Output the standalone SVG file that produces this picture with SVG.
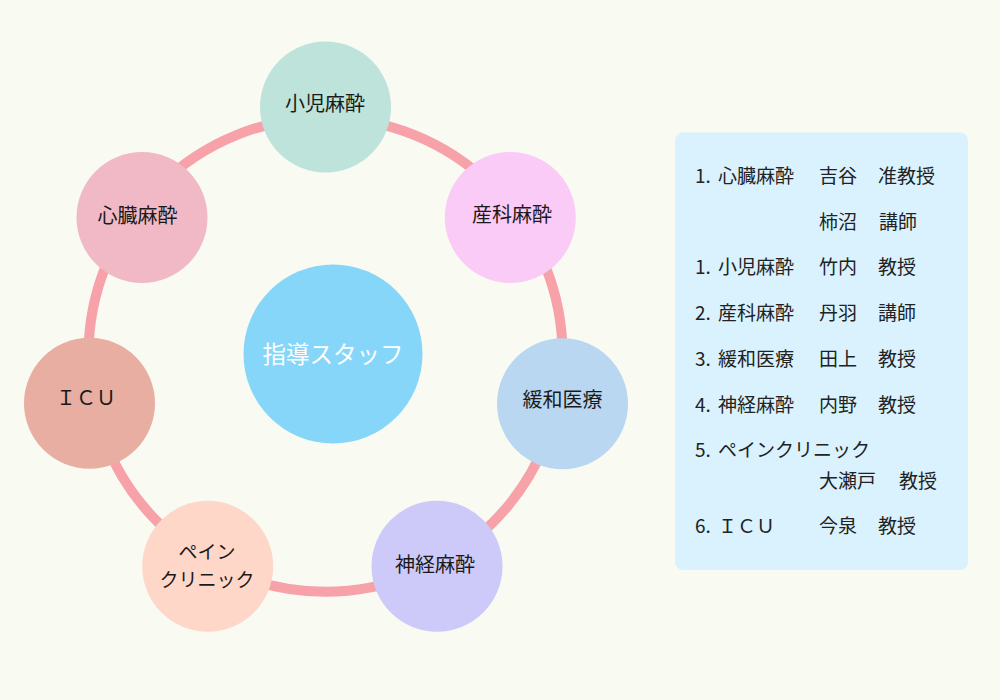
<svg xmlns="http://www.w3.org/2000/svg" width="1000" height="700" viewBox="0 0 1000 700">
  <style>
    text { font-family: "Noto Sans CJK JP", "Noto Sans", sans-serif; fill: #1a1a1a; }
    .lbl { font-size: 20px; text-anchor: middle; }
    .lbl2 { font-size: 19px; text-anchor: middle; }
    .ctr { font-size: 23.5px; text-anchor: middle; fill: #ffffff; }
    .lst { font-size: 19px; fill: #222222; }
    .node { stroke: none; }
  </style>
  <rect x="0" y="0" width="1000" height="700" fill="#f9faf2"/>

  <g id="connectors">
    <circle cx="325.5" cy="354.7" r="237" fill="none" stroke="#f7a1a9" stroke-width="10"/>
  </g>

  <g id="node-center">
    <circle class="node" cx="333" cy="354" r="89.5" fill="#86d6f9"/>
    <text class="ctr" x="333" y="362.5">指導スタッフ</text>
  </g>

  <g id="node-shoni">
    <circle class="node" cx="325.5" cy="107" r="65.5" fill="#bde3da"/>
    <text class="lbl" x="325" y="111">小児麻酔</text>
  </g>

  <g id="node-sanka">
    <circle class="node" cx="510.3" cy="217.5" r="65.5" fill="#facbf6"/>
    <text class="lbl" x="512" y="222">産科麻酔</text>
  </g>

  <g id="node-kanwa">
    <circle class="node" cx="562.5" cy="403.7" r="65.5" fill="#b9d7f1"/>
    <text class="lbl" x="562.5" y="407">緩和医療</text>
  </g>

  <g id="node-shinkei">
    <circle class="node" cx="437" cy="566.3" r="65.5" fill="#cdc9f9"/>
    <text class="lbl" x="435" y="571.5">神経麻酔</text>
  </g>

  <g id="node-pain">
    <circle class="node" cx="207.7" cy="566.3" r="65.5" fill="#ffd7c9"/>
    <text class="lbl2" x="207" y="558.5">ペイン</text>
    <text class="lbl2" x="207" y="586.5">クリニック</text>
  </g>

  <g id="node-icu">
    <circle class="node" cx="89.5" cy="403.3" r="65.5" fill="#e8aea2"/>
    <text class="lbl" x="86" y="405">ＩＣＵ</text>
  </g>

  <g id="node-shinzo">
    <circle class="node" cx="142" cy="217.5" r="65.5" fill="#f0b9c5"/>
    <text class="lbl" x="137.5" y="223">心臓麻酔</text>
  </g>

  <g id="staff-list">
    <rect x="675" y="132.5" width="293" height="437.5" rx="8" ry="8" fill="#d9f2fe"/>
    <text class="lst" x="695" y="182.5">1.</text>
    <text class="lst" x="718" y="182.5">心臓麻酔</text>
    <text class="lst" x="819" y="182.5">吉谷</text>
    <text class="lst" x="878" y="182.5">准教授</text>

    <text class="lst" x="819" y="229">柿沼</text>
    <text class="lst" x="879" y="229">講師</text>

    <text class="lst" x="695" y="274">1.</text>
    <text class="lst" x="718" y="274">小児麻酔</text>
    <text class="lst" x="819" y="274">竹内</text>
    <text class="lst" x="878" y="274">教授</text>

    <text class="lst" x="695" y="320">2.</text>
    <text class="lst" x="718" y="320">産科麻酔</text>
    <text class="lst" x="819" y="320">丹羽</text>
    <text class="lst" x="878" y="320">講師</text>

    <text class="lst" x="695" y="365.5">3.</text>
    <text class="lst" x="718" y="365.5">緩和医療</text>
    <text class="lst" x="819" y="365.5">田上</text>
    <text class="lst" x="878" y="365.5">教授</text>

    <text class="lst" x="695" y="411.5">4.</text>
    <text class="lst" x="718" y="411.5">神経麻酔</text>
    <text class="lst" x="819" y="411.5">内野</text>
    <text class="lst" x="878" y="411.5">教授</text>

    <text class="lst" x="695" y="457">5.</text>
    <text class="lst" x="718" y="457">ペインクリニック</text>
    <text class="lst" x="819" y="488">大瀬戸</text>
    <text class="lst" x="899" y="488">教授</text>

    <text class="lst" x="695" y="533">6.</text>
    <text class="lst" x="718" y="533">ＩＣＵ</text>
    <text class="lst" x="819" y="533">今泉</text>
    <text class="lst" x="878" y="533">教授</text>
  </g>
</svg>
